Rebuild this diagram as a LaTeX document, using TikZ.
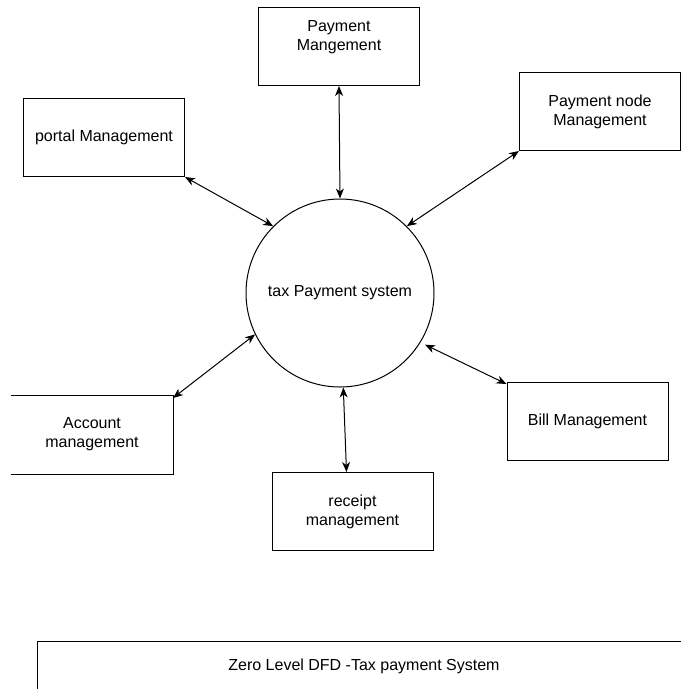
\documentclass[tikz,border=0pt]{standalone}
\usepackage{fontspec}
\setmainfont{Liberation Sans}
\usetikzlibrary{arrows.meta}

\begin{document}
\begin{tikzpicture}[x=1pt,y=-1pt,>={Stealth[length=10pt,width=8pt,inset=3pt]},line width=1pt,
	font=\fontsize{16}{19}\selectfont,
	box/.style={rectangle,draw,minimum width=161pt,minimum height=78pt,align=center,inner sep=0pt},
	proc node/.style={circle,draw,minimum size=188pt,inner sep=0pt}]
	\useasboundingbox (0,0) rectangle (681,689);

	\node[proc node] (sys) at (340,293) {tax Payment system};

	\node[box] (pay) at (339,46.5) {};
	\node[align=center] (paytext) at (339,37) {Payment\\Mangement};
	\node[box] (portal) at (104,137.5) {portal Management};
	\node[box] (node) at (600,111.5) {Payment node\\Management};
	\node[box,draw=none] (acc) at (92,434.5) {Account\\management};
	\node[box] (bill) at (587.5,421.5) {Bill Management};
	\node[box] (rec) at (352.5,511.5) {receipt\\management};

	\draw (acc.north west) -- (acc.north east) -- (acc.south east) -- (acc.south west);

	\path[<->]
	(pay.south) edge (sys.north)
	(portal.south east) edge (sys.135)
	(node.south west) edge (sys.45)
	([yshift=-3pt]acc.north east) edge (sys.206)
	([yshift=-2pt]bill.north west) edge ([shift={(4pt,-3pt)}]sys.-31)
	([xshift=-6pt]rec.north) edge (sys.-88);

	% title strip at the bottom
	\coordinate (tl) at (37,641);
	\node (title) at (364,666) {Zero Level DFD -Tax payment System};
	\draw (37,689) -- (tl) -- (681,641);
\end{tikzpicture}
\end{document}
